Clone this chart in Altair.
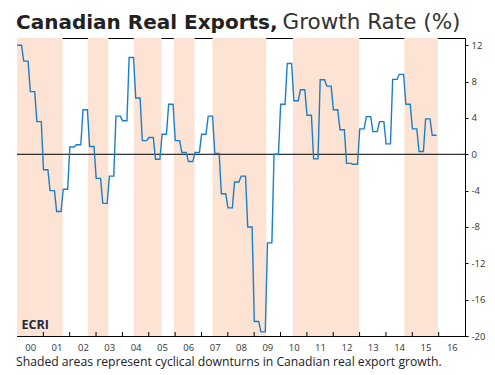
import altair as alt
import pandas as pd

# Quarterly growth rate (%) 2000Q1 .. 2015Q4
growth = [
    12.0, 10.25, 6.9, 3.6,
    -1.7, -4.0, -6.3, -3.85,
    0.8, 1.05, 4.9, 0.85,
    -2.65, -5.4, -2.4, 4.2,
    3.7, 10.65, 6.2, 1.5,
    1.85, -0.55, 2.2, 5.5,
    1.5, 0.2, -0.8, 0.2,
    2.2, 4.2, 0.1, -4.35,
    -5.9, -3.05, -2.4, -8.0,
    -18.4, -19.55, -9.75, 0.0,
    5.5, 10.0, 5.9, 7.1,
    4.3, -0.5, 8.2, 7.5,
    4.9, 2.7, -1.0, -1.1,
    2.8, 4.15, 2.5, 3.6,
    1.15, 8.25, 8.8, 5.5,
    2.8, 0.3, 3.9, 2.1,
]
first_year = 2000

# Cyclical downturn periods (decimal years)
shade_start = [2000.0, 2002.69, 2004.43, 2005.95, 2007.42, 2010.47, 2014.70]
shade_end = [2001.73, 2003.47, 2005.48, 2006.74, 2009.46, 2012.99, 2015.97]

year_labels = ["00", "01", "02", "03", "04", "05", "06", "07", "08",
               "09", "10", "11", "12", "13", "14", "15", "16"]
y_ticks = [-20, -16, -12, -8, -4, 0, 4, 8, 12]

title_bold = "Canadian Real Exports,"
title_rest = "Growth Rate (%)"
footnote = "Shaded areas represent cyclical downturns in Canadian real export growth."
logo = "ECRI"

# ---- tables ----
rows = []
for i, v in enumerate(growth):
    q = first_year + i * 0.25
    rows.append({"t": q + 0.005, "v": v})
    rows.append({"t": q + 2 / 12 + 0.005, "v": v})
line_df = pd.DataFrame(rows)
shade_df = pd.DataFrame({"start": shade_start, "end": shade_end})
tick_df = pd.DataFrame({"t": [first_year + i for i in range(1, len(year_labels))]})
zero_df = pd.DataFrame({"z": [0]})

W, H = 448, 298
FONT = "Open Sans"
TFONT = "DejaVu Sans"
x_scale = alt.Scale(domain=[first_year, first_year + len(year_labels)], nice=False, zero=False)
y_scale = alt.Scale(domain=[-20, 12.8], nice=False, zero=False)

x_axis = alt.Axis(
    values=[first_year + i + 0.5 for i in range(len(year_labels))],
    labelExpr="slice(format(floor(datum.value), 'd'), 2)",
    tickSize=0, labelPadding=6, labelFontSize=9.5, labelColor="#333333",
    labelFont=FONT, domainColor="black", grid=False, title=None,
    labelFlush=False, labelOverlap=False,
)
y_axis = alt.Axis(
    orient="right", values=y_ticks, labelExpr="datum.value + ''",
    tickSize=3, tickColor="black", domainColor="black", labelPadding=3,
    labelFontSize=9.5, labelColor="#333333", labelFont=FONT, grid=False, title=None,
    labelOverlap=False, labelFlush=False,
)

shade = alt.Chart(shade_df).mark_rect(color="#fce3d3").encode(
    x=alt.X("start:Q", scale=x_scale, axis=x_axis),
    x2="end:Q",
    y=alt.value(0),
    y2=alt.value(H),
)
zero = alt.Chart(zero_df).mark_rule(color="black", strokeWidth=1).encode(
    y=alt.Y("z:Q", scale=y_scale, axis=y_axis)
)
ticks = alt.Chart(tick_df).mark_rule(color="black", strokeWidth=1).encode(
    x=alt.X("t:Q", scale=x_scale, axis=x_axis), y=alt.value(H), y2=alt.value(H - 4)
)
line = alt.Chart(line_df).mark_line(color="#1a7fc8", strokeWidth=1.4).encode(
    x=alt.X("t:Q", scale=x_scale, axis=x_axis),
    y=alt.Y("v:Q", scale=y_scale, axis=y_axis),
)

def txt(s, x, y, size, weight="normal", color="#222222", font=FONT):
    return alt.Chart(pd.DataFrame({"s": [s]})).mark_text(
        align="left", baseline="alphabetic", fontSize=size, fontWeight=weight,
        color=color, font=font,
    ).encode(text="s:N", x=alt.value(x), y=alt.value(y))

t1 = txt(title_bold, -1, -9, 20, "bold", "#222222", TFONT)
t2 = txt(title_rest, 265.5, -9, 21.5, "normal", "#333333", TFONT)
fn = txt(footnote, -1, 328, 12.2, "normal", "#222222")
lg = txt(logo, 4.5, 291, 12.5, "bold", "#1b2a41")

chart = alt.layer(shade, zero, ticks, line, t1, t2, fn, lg).properties(
    width=W, height=H,
    autosize=alt.AutoSizeParams(type="none"),
    padding={"left": 9, "top": 30, "right": 22, "bottom": 35},
).configure_view(stroke="black", strokeWidth=1).configure_axis(labelOverlap=False)

chart.save("out.html", embed_options={"renderer": "svg", "actions": False})
